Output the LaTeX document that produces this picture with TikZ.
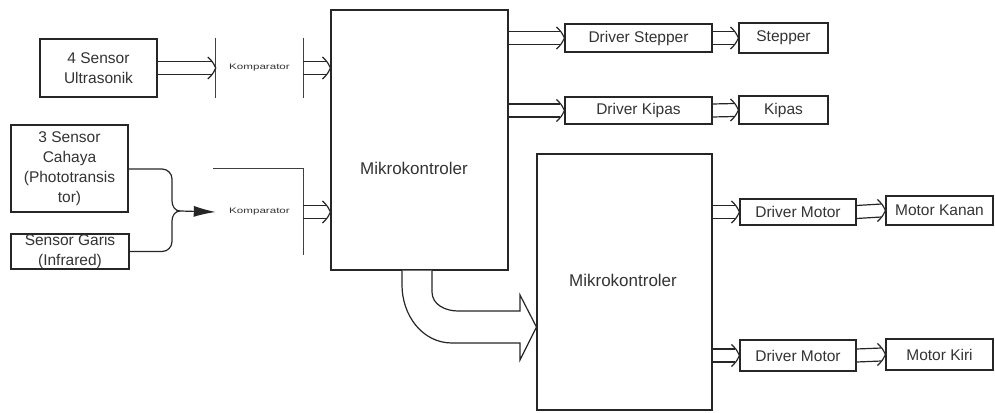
\documentclass[tikz,border=0pt]{standalone}
\usepackage{fontspec}
\setmainfont{Liberation Sans}
\usetikzlibrary{arrows.meta,calc}
\newcommand\dblarr[2]{%
  \draw[ln] ($(#1)+(0,-6.5)$) -- ($(#2)+(-4,-6.5)$);
  \draw[ln] ($(#1)+(0,6.5)$) -- ($(#2)+(-4,6.5)$);
  \draw[ln] ($(#2)+(-8,-11)$) .. controls ($(#2)+(-3,-6)$) .. (#2) .. controls ($(#2)+(-3,6)$) .. ($(#2)+(-8,11)$);
}
\begin{document}
\begin{tikzpicture}[x=1pt,y=-1pt,
  box/.style={draw=black!85, line width=1.1pt, inner sep=0pt, align=center, font=\fontsize{15.5}{20}\selectfont, text=black!80},
  ln/.style={draw=black!85, line width=1.2pt},
  thinln/.style={draw=black!75, line width=0.8pt},
  kt/.style={font=\fontsize{8}{9}\selectfont, text=black!80},
  mt/.style={font=\fontsize{17}{20}\selectfont, text=black!80}]
\useasboundingbox (0,0) rectangle (995,412);
% sensors
\node[box, minimum width=117pt, minimum height=58pt] (us) at (98.5,68) {4 Sensor\\Ultrasonik};
\node[box, minimum width=117pt, minimum height=87pt] (cah) at (69.5,168.5) {3 Sensor\\Cahaya\\(Phototransis\\tor)};
\node[box, minimum width=118pt, minimum height=35pt] (gar) at (70,251.5) {Sensor Garis\\(Infrared)};
% komparators
\node[kt, minimum width=87pt, minimum height=60pt, inner sep=0pt] (k1) at (259.5,68) {\scalebox{1.45}[1]{Komparator}};
\draw[thinln] (k1.north west) -- (k1.south west);
\draw[thinln] (k1.north east) -- (k1.south east);
\node[kt, minimum width=87pt, minimum height=20pt, inner sep=0pt] (k2) at (259.5,212) {\scalebox{1.45}[1]{Komparator}};
\coordinate (k2tl) at (213,168);
\coordinate (k2tr) at (303,168);
\coordinate (k2br) at (303,255);
\draw[thinln] (k2tl) -- (k2tr) -- (k2br);
% microcontrollers
\node[box, minimum width=177pt, minimum height=260pt] (m1) at (419.5,140) {};
\node[mt] (m1t) at (414,168) {Mikrokontroler};
\node[box, minimum width=175pt, minimum height=256pt] (m2) at (624.5,282) {};
\node[mt] (m2t) at (623,280) {Mikrokontroler};
% outputs
\node[box, minimum width=147pt, minimum height=28pt] (ds) at (638.5,38) {Driver Stepper};
\node[box, minimum width=89pt, minimum height=30pt] (st) at (783.5,38) {Stepper};
\node[box, minimum width=147pt, minimum height=27pt] (dk) at (638.5,110.5) {Driver Kipas};
\node[box, minimum width=89pt, minimum height=28pt] (kp) at (783.5,110) {Kipas};
\node[box, minimum width=116pt, minimum height=26pt] (dm1) at (798,212) {Driver Motor};
\node[box, minimum width=107pt, minimum height=29pt] (mka) at (939.5,210.5) {Motor Kanan};
\node[box, minimum width=116pt, minimum height=31pt] (dm2) at (798,355.5) {Driver Motor};
\node[box, minimum width=107pt, minimum height=31pt] (mki) at (939.5,354.5) {Motor Kiri};
% double arrows
\dblarr{us.east}{k1.west}
\dblarr{k1.east}{m1.west |- k1.east}
\dblarr{k2.east}{m1.west |- k2.east}
\dblarr{m1.east |- ds.west}{ds.west}
\dblarr{ds.east}{st.west}
\dblarr{m1.east |- dk.west}{dk.west}
\dblarr{dk.east}{kp.west}
\dblarr{m2.east |- dm1.west}{dm1.west}
\dblarr{dm1.east}{mka.west}
\dblarr{m2.east |- dm2.west}{dm2.west}
\dblarr{dm2.east}{mki.west}
% merge bracket
\coordinate (bj) at (180,211);
\draw[ln] (cah.east |- 0,169) -- (162,169) to[out=0,in=90] (172,179) -- (172,201) to[out=-90,in=180] (bj);
\draw[ln] (gar.east) -- (162,251.5) to[out=0,in=-90] (172,241.5) -- (172,221) to[out=90,in=180] (bj);
\draw[ln, -{Latex[length=22pt,width=11pt]}] (bj) -- (k2.west);
% big curved arrow
\draw[ln, fill=white] (m1.south -| 402,0) -- (402,285) to[out=-90,in=180] (452,343) -- (520,343) -- (520,360)
  -- (m2.west |- 0,327) -- (520,295) -- (520,311) -- (458,311) to[out=180,in=-90] (432,292) -- (m1.south -| 432,0);
\end{tikzpicture}
\end{document}
